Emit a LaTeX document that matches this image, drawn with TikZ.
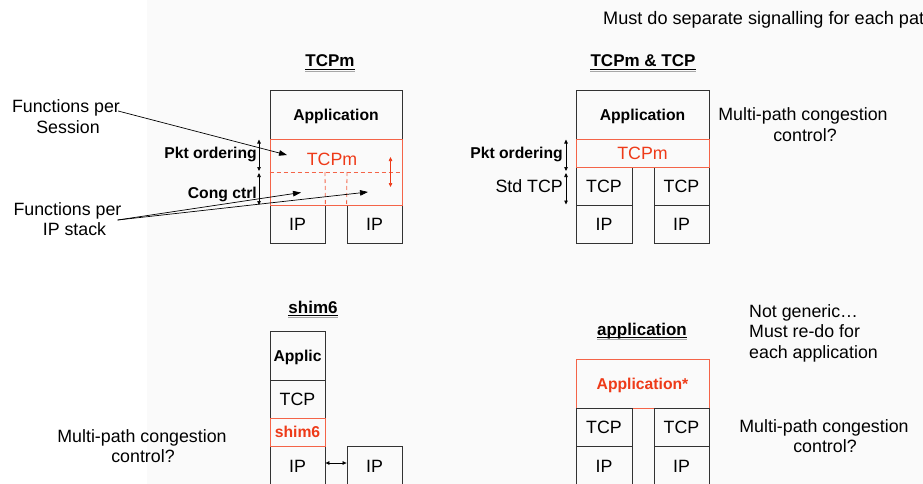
\documentclass[tikz,border=0pt]{standalone}
\usepackage{fontspec}
\setmainfont{Liberation Sans}
\usetikzlibrary{arrows.meta}
\definecolor{stackred}{RGB}{238,58,24}
\definecolor{stackredline}{RGB}{244,100,72}
\definecolor{edge}{RGB}{50,50,50}
\newcommand\regfont{\fontsize{17.8}{21}\selectfont}
\newcommand\lblfont{\bfseries\fontsize{15.7}{18}\selectfont}
\newcommand\ttlfont{\bfseries\fontsize{17}{20}\selectfont}
\begin{document}
\begin{tikzpicture}[x=1pt,y=-1pt,
  layer/.style={draw=edge, line width=0.8pt, inner sep=0pt, text height=11.2pt, text depth=0pt, font=\lblfont},
  rlayer/.style={layer, text height=12.7pt, font=\regfont},
  hot/.style={draw=stackredline, text=stackred},
  txt/.style={inner sep=0pt, anchor=base, font=\regfont},
  ltxt/.style={txt, anchor=base west},
  lbl/.style={inner sep=0pt, anchor=base east, font=\lblfont},
  ttl/.style={inner sep=0pt, anchor=base, font=\ttlfont},
  arr/.style={line width=0.7pt, -{Triangle[length=8pt,width=5.5pt]}},
  span/.style={line width=0.7pt, {Triangle[length=4pt,width=3.5pt]}-{Triangle[length=4pt,width=3.5pt]}},
  reddash/.style={draw=stackredline, line width=0.8pt, dash pattern=on 4pt off 3pt},
]
\useasboundingbox (0,0) rectangle (923,484);
\clip (0,0) rectangle (923,484);
\fill[white] (0,0) rectangle (147,484);
\fill[black!2] (147,0) rectangle (923,484);

\newcommand\uline[1]{%
  \draw[black!35, line width=1pt] ([yshift=-4.2pt]#1.base west) -- ([yshift=-4.2pt]#1.base east);
  \draw[black, line width=1.1pt] ([yshift=-2.8pt]#1.base west) -- ([yshift=-2.8pt]#1.base east);}

% heading note, running past the right edge
\node[ltxt, font=\fontsize{18.1}{21}\selectfont] (sig) at (603,25) {Must do separate signalling for each path};

% ---------------- TCPm ----------------
\node[ttl] (t1) at (330,67) {TCPm};
\uline{t1}
\node[layer, minimum width=132pt, minimum height=49pt] (app1) at (336,114.5) {Application};
\node[rlayer, minimum width=55pt, minimum height=38pt] (ip1a) at (297.5,224) {IP};
\node[rlayer, minimum width=55pt, minimum height=38pt] (ip1b) at (374.5,224) {IP};
\node[layer, hot, minimum width=132pt, minimum height=66pt] (tcpm1) at (336,172) {};
\node[txt, text=stackred] (tcpm1t) at (332,165) {TCPm};
\draw[reddash] (tcpm1.west) -- (tcpm1.east);
\draw[reddash] (325,172) -- (ip1a.north east);
\draw[reddash] (347,172) -- (ip1b.north west);
\draw[span, stackred] (390.5,157) -- (390.5,187);
\coordinate (k1a) at (259,139.5);
\coordinate (k1b) at (259,171);
\coordinate (k1c) at (259,173);
\coordinate (k1d) at (259,205);
\draw[span] (k1a) -- (k1b);
\draw[span] (k1c) -- (k1d);
\node[lbl] (po1) at (257,158) {Pkt ordering};
\node[lbl] (cc1) at (257,198) {Cong ctrl};

\node[txt] (fs1) at (66,113) {Functions per};
\node[txt] (fs2) at (68,134) {Session};
\node[txt] (fi1) at (67.5,215) {Functions per};
\node[txt] (fi2) at (74.5,235) {IP stack};
\coordinate (e1) at (287,155);
\coordinate (e2) at (301,192.5);
\coordinate (e3) at (368,192);
\draw[arr] ([xshift=-2pt,yshift=2pt]fs1.base east) -- (e1);
\draw[arr] ([xshift=-4pt,yshift=-5pt]fi1.base east) -- (e2);
\draw[arr] ([xshift=-4pt,yshift=-5pt]fi1.base east) -- (e3);

% ---------------- TCPm & TCP ----------------
\node[ttl] (t2) at (643,67) {TCPm \& TCP};
\uline{t2}
\node[layer, minimum width=133pt, minimum height=49pt] (app2) at (642.5,114.5) {Application};
\node[rlayer, minimum width=56pt, minimum height=38pt] (tcp2a) at (604,186) {TCP};
\node[rlayer, minimum width=55pt, minimum height=38pt] (tcp2b) at (681.5,186) {TCP};
\node[rlayer, minimum width=56pt, minimum height=38pt] (ip2a) at (604,224) {IP};
\node[rlayer, minimum width=55pt, minimum height=38pt] (ip2b) at (681.5,224) {IP};
\node[rlayer, hot, minimum width=133pt, minimum height=28pt] (tcpm2) at (642.5,153) {TCPm};
\coordinate (k2a) at (566,139.5);
\coordinate (k2b) at (566,171);
\coordinate (k2c) at (566,173);
\coordinate (k2d) at (566,204.5);
\draw[span] (k2a) -- (k2b);
\draw[span] (k2c) -- (k2d);
\node[lbl] (po2) at (563,158) {Pkt ordering};
\node[txt, anchor=base east] (st2) at (563,192) {Std TCP};
\node[txt] (m2a) at (803,121) {Multi-path congestion};
\node[txt] (m2b) at (805,142) {control?};

% ---------------- shim6 ----------------
\node[ttl] (t3) at (313,313) {shim6};
\uline{t3}
\node[layer, minimum width=55pt, minimum height=49pt] (applic) at (297.5,355.5) {Applic};
\node[rlayer, minimum width=55pt, minimum height=38pt] (tcp3) at (297.5,399) {TCP};
\node[rlayer, minimum width=55pt, minimum height=40pt] (ip3a) at (297.5,466) {IP};
\node[rlayer, minimum width=55pt, minimum height=40pt] (ip3b) at (374.5,466) {IP};
\node[layer, hot, minimum width=55pt, minimum height=28pt] (shim) at (297.5,432) {shim6};
\draw[span] ([yshift=3pt]ip3a.east) -- ([yshift=3pt]ip3b.west);
\node[txt] (m3a) at (142,442) {Multi-path congestion};
\node[txt] (m3b) at (143,462) {control?};

% ---------------- application ----------------
\node[ttl] (t4) at (642,335) {application};
\uline{t4}
\node[layer, hot, minimum width=133pt, minimum height=49pt] (app4) at (642.5,383.5) {Application*};
\node[rlayer, minimum width=56pt, minimum height=38pt] (tcp4a) at (604,427) {TCP};
\node[rlayer, minimum width=55pt, minimum height=38pt] (tcp4b) at (681.5,427) {TCP};
\node[rlayer, minimum width=56pt, minimum height=40pt] (ip4a) at (604,466) {IP};
\node[rlayer, minimum width=55pt, minimum height=40pt] (ip4b) at (681.5,466) {IP};
\node[ltxt] (g4a) at (749,317) {Not generic…};
\node[ltxt] (g4b) at (749,337) {Must re-do for};
\node[ltxt] (g4c) at (749,358) {each application};
\node[txt] (m4a) at (824,432) {Multi-path congestion};
\node[txt] (m4b) at (825,452) {control?};
\end{tikzpicture}
\end{document}
